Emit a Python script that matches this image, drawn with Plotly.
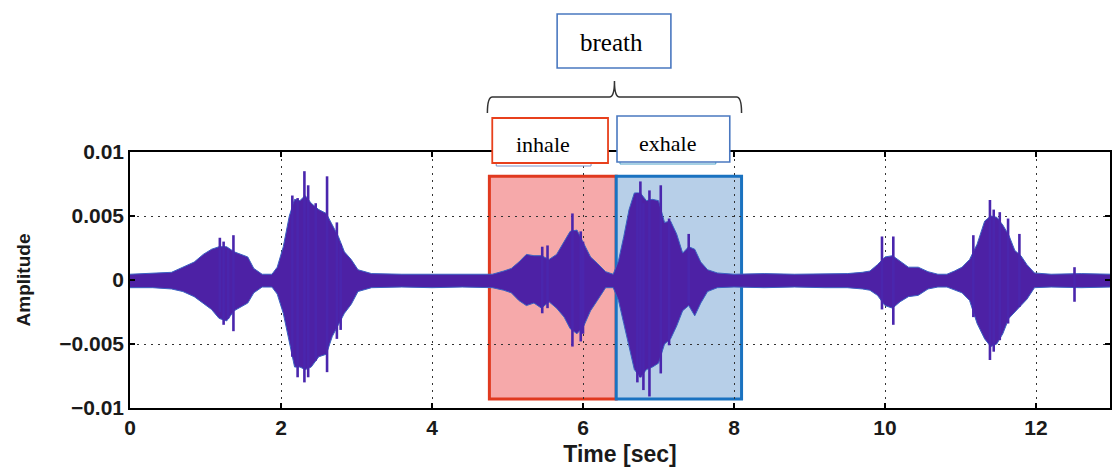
import numpy as np
import plotly.graph_objects as go

# ---------------- data ----------------
# envelope of the breath-sound waveform (amplitude in units of 1e-3)
env_t = [0.0, 0.3, 0.55, 0.70, 0.85, 0.97, 1.08, 1.18, 1.28, 1.38, 1.47, 1.56, 1.64, 1.75, 1.88,
         1.95, 2.03, 2.11, 2.18, 2.25, 2.32, 2.40, 2.50, 2.60, 2.68, 2.76, 2.84, 2.93, 3.02, 3.2,
         3.6, 4.0, 4.4, 4.8, 4.95, 5.05, 5.15, 5.25, 5.35, 5.45, 5.55, 5.65, 5.75, 5.83, 5.92,
         6.01, 6.10, 6.19, 6.30, 6.40, 6.47, 6.54, 6.61, 6.68, 6.76, 6.84, 6.92, 7.00, 7.08, 7.16,
         7.24, 7.32, 7.40, 7.48, 7.56, 7.65, 7.78, 8.0, 8.4, 8.8, 9.2, 9.5, 9.70, 9.80, 9.90,
         10.00, 10.10, 10.20, 10.31, 10.44, 10.57, 10.70, 10.82, 10.92, 11.02, 11.12, 11.22, 11.32,
         11.40, 11.48, 11.56, 11.64, 11.72, 11.80, 11.88, 11.98, 12.2, 12.6, 13.0]
env_hi_e3 = [0.45, 0.5, 0.6, 1.0, 1.4, 2.0, 2.4, 2.6, 2.6, 2.2, 2.0, 1.8, 0.9, 0.45, 0.45,
             1.0, 2.6, 5.0, 6.3, 6.2, 6.6, 6.0, 5.5, 5.2, 4.3, 3.4, 2.2, 1.6, 0.8, 0.5,
             0.45, 0.45, 0.45, 0.45, 0.7, 0.9, 1.4, 2.0, 1.9, 1.9, 1.6, 2.0, 3.0, 3.8, 3.9,
             2.8, 1.8, 1.3, 0.65, 0.45, 1.5, 3.4, 5.5, 6.8, 6.8, 6.2, 6.3, 6.2, 4.5, 4.6,
             3.6, 2.1, 2.6, 2.4, 1.4, 0.8, 0.55, 0.45, 0.5, 0.45, 0.5, 0.5, 0.6, 0.7, 1.2,
             1.8, 1.9, 1.5, 1.0, 1.0, 0.65, 0.45, 0.45, 0.7, 1.0, 1.6, 2.8, 4.6,
             5.0, 4.9, 4.3, 3.5, 2.3, 1.9, 1.2, 0.55, 0.45, 0.5, 0.45]
env_lo_e3 = [-0.6, -0.6, -0.7, -0.9, -1.3, -1.8, -2.3, -3.0, -3.2, -2.4, -2.1, -1.8, -1.0, -0.55, -0.55,
             -1.1, -2.6, -5.0, -6.8, -6.8, -7.0, -6.8, -6.0, -5.8, -4.4, -3.5, -2.6, -1.9, -0.9, -0.6,
             -0.55, -0.6, -0.55, -0.6, -0.8, -1.0, -1.6, -2.0, -1.8, -2.2, -1.7, -2.2, -2.9, -3.8, -4.2,
             -3.6, -2.4, -1.6, -0.6, -0.6, -1.6, -3.4, -5.2, -7.0, -7.6, -7.0, -6.8, -6.5, -5.0, -4.6,
             -3.6, -2.4, -2.0, -2.8, -1.8, -0.9, -0.6, -0.55, -0.6, -0.55, -0.6, -0.6, -0.7, -0.8, -1.2,
             -2.0, -2.2, -1.7, -1.3, -1.2, -0.7, -0.55, -0.55, -0.8, -1.0, -1.6, -3.4, -4.6,
             -5.2, -5.0, -4.2, -3.0, -2.5, -2.0, -1.5, -0.6, -0.55, -0.6, -0.55]

# isolated peaks sticking out of the envelope (units of 1e-3)
spike_t = [1.19, 1.24, 1.30, 1.37,
           2.15, 2.22, 2.31, 2.36, 2.46, 2.61, 2.74, 2.79,
           5.46, 5.53, 5.86, 5.97, 6.00,
           6.72, 6.76, 6.80, 6.88, 7.03, 7.14, 7.40,
           9.96, 10.11,
           11.17, 11.39, 11.44, 11.52, 11.63, 11.78,
           12.51]
spike_hi_e3 = [3.3, 3.0, 2.4, 3.5,
               6.6, 6.4, 8.5, 7.4, 6.0, 8.1, 4.5, 2.8,
               2.6, 2.7, 5.2, 3.8, 3.0,
               6.8, 7.7, 6.0, 7.0, 7.4, 4.8, 3.6,
               3.4, 3.4,
               3.5, 6.25, 5.5, 5.3, 4.8, 3.6,
               1.0]
spike_lo_e3 = [-2.5, -3.5, -3.0, -4.0,
               -6.0, -7.6, -8.0, -7.6, -6.3, -7.2, -4.6, -3.9,
               -2.6, -2.2, -5.2, -4.8, -4.2,
               -8.0, -7.6, -8.6, -9.1, -7.3, -5.1, -1.8,
               -2.3, -3.5,
               -2.9, -6.25, -5.6, -4.7, -3.4, -2.1,
               -1.7]

inhale_span = [4.76, 6.44]
exhale_span = [6.44, 8.10]
phase_amp_e3 = [-9.3, 8.1]

x_tickvals = [0, 2, 4, 6, 8, 10, 12]
x_ticktext = ["0", "2", "4", "6", "8", "10", "12"]
y_tickvals = [-0.01, -0.005, 0, 0.005, 0.01]
y_ticktext = ["\u22120.01", "\u22120.005", "0", "0.005", "0.01"]

x_range = [0, 12.98]
y_range = [-0.01, 0.01]
SCALE = 1e-3

# ---------------- figure ----------------
W, H = 1112, 467
M = dict(l=130, r=0, t=152, b=59)
PW, PH = W - M["l"] - M["r"], H - M["t"] - M["b"]

def px2pap_x(px):
    return (px - M["l"]) / PW

def px2pap_y(py):
    return (H - M["b"] - py) / PH

def t2pap(t):
    return (t - x_range[0]) / (x_range[1] - x_range[0])

wave_fill = "#4d21a5"
wave_edge = "#3a62c2"

fig = go.Figure()
lo = np.array(env_lo_e3) * SCALE
hi = np.array(env_hi_e3) * SCALE
fig.add_trace(go.Scatter(x=env_t, y=lo, mode="lines", line=dict(color=wave_edge, width=1),
                         hoverinfo="skip", showlegend=False))
fig.add_trace(go.Scatter(x=env_t, y=hi, mode="lines", line=dict(color=wave_edge, width=1),
                         fill="tonexty", fillcolor=wave_fill, hoverinfo="skip", showlegend=False))

sx, sy = [], []
for t, a, b in zip(spike_t, spike_hi_e3, spike_lo_e3):
    sx += [t, t, None]
    sy += [a * SCALE, b * SCALE, None]
fig.add_trace(go.Scatter(x=sx, y=sy, mode="lines", line=dict(color="#4a26ad", width=2.6),
                         connectgaps=False, hoverinfo="skip", showlegend=False))

# phase rectangles
fig.add_shape(type="rect", xref="x", yref="y", layer="below",
              x0=inhale_span[0], x1=inhale_span[1],
              y0=phase_amp_e3[0] * SCALE, y1=phase_amp_e3[1] * SCALE,
              fillcolor="#f6a9aa", line=dict(color="#e0391f", width=3))
fig.add_shape(type="rect", xref="x", yref="y", layer="below",
              x0=exhale_span[0], x1=exhale_span[1],
              y0=phase_amp_e3[0] * SCALE, y1=phase_amp_e3[1] * SCALE,
              fillcolor="#b7cfe8", line=dict(color="#1a72c0", width=3))

# curly brace over the whole breath
bx0 = t2pap(inhale_span[0]) - 2 / PW
bx1 = t2pap(exhale_span[1])
bxm = (bx0 + bx1) / 2
yt, yb, yp = px2pap_y(113), px2pap_y(97), px2pap_y(81)
d = 5 / PW
path = (f"M {bx0},{yt} Q {bx0},{yb} {bx0+d},{yb} L {bxm-d},{yb} Q {bxm},{yb} {bxm},{yp} "
        f"Q {bxm},{yb} {bxm+d},{yb} L {bx1-d},{yb} Q {bx1},{yb} {bx1},{yt}")
fig.add_shape(type="path", xref="paper", yref="paper", path=path,
              line=dict(color="#333333", width=1.5))

def rect_px(x0, x1, y0, y1, color, width):
    fig.add_shape(type="rect", xref="paper", yref="paper",
                  x0=px2pap_x(x0), x1=px2pap_x(x1), y0=px2pap_y(y1), y1=px2pap_y(y0),
                  line=dict(color=color, width=width), fillcolor="white")

# shadow boxes behind the labels, then the label boxes
rect_px(497, 592, 122, 166, "#7d93c8", 1)
rect_px(621, 717, 122, 164, "#4aa0c8", 1)
rect_px(558, 672, 14, 68, "#4a78c0", 1.6)
rect_px(493, 609, 118, 163, "#e8401c", 1.8)
rect_px(618, 731, 116, 162, "#4a78c0", 1.6)

serif = "Liberation Serif, Times New Roman, serif"
def label(text, cx, cy, size):
    fig.add_annotation(xref="paper", yref="paper", x=px2pap_x(cx), y=px2pap_y(cy),
                       xanchor="center", yanchor="middle", text=text, showarrow=False,
                       font=dict(family=serif, size=size, color="black"))

label("breath", 612.5, 42, 25)
label("inhale", 543.5, 144, 22)
label("exhale", 669, 143, 22)

sans = "Liberation Sans, Arial, sans-serif"
narrow = "Liberation Sans Narrow, Arial Narrow, Liberation Sans, sans-serif"
fig.update_xaxes(range=x_range, tickvals=x_tickvals, ticktext=x_ticktext,
                 ticks="inside", ticklen=5, tickcolor="black", tickwidth=1.5,
                 showline=True, linecolor="black", linewidth=1.5, mirror="ticks",
                 showgrid=True, gridcolor="#333333", gridwidth=1, griddash="2px,5px",
                 zeroline=False,
                 tickfont=dict(family=narrow, size=21, color="#1a1a1a", weight="bold"),
                 title=dict(text="Time [sec]", font=dict(family=sans, size=23, color="#1a1a1a",
                                                         weight="bold"), standoff=12))
fig.update_yaxes(range=y_range, tickvals=y_tickvals, ticktext=y_ticktext,
                 ticks="inside", ticklen=5, tickcolor="black", tickwidth=1.5,
                 showline=True, linecolor="black", linewidth=1.5, mirror="ticks",
                 showgrid=True, gridcolor="#333333", gridwidth=1, griddash="2px,5px",
                 zeroline=False,
                 tickfont=dict(family=sans, size=21, color="#1a1a1a", weight="bold"),
                 title=dict(text="Amplitude", font=dict(family=sans, size=19, color="#1a1a1a",
                                                        weight="bold"), standoff=24))

fig.update_layout(width=W, height=H, margin=M, plot_bgcolor="white", paper_bgcolor="white",
                  showlegend=False)
fig.write_html("out.html")
